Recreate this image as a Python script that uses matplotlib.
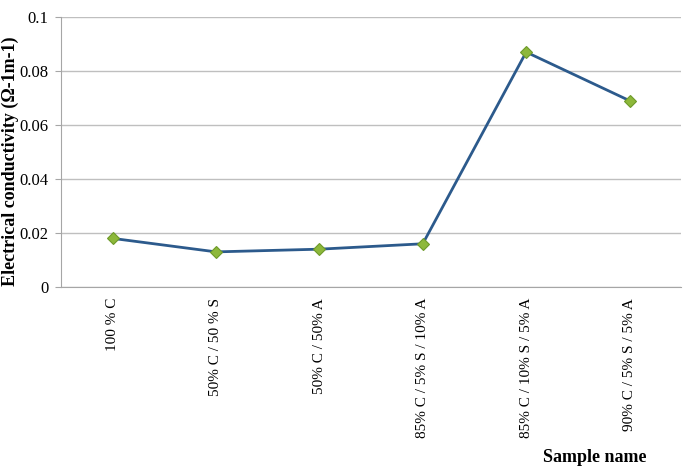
import matplotlib.pyplot as plt

# données
samples = ['100 % C', '50% C / 50 % S', '50% C / 50% A',
           '85% C / 5% S / 10% A', '85% C / 10% S / 5% A', '90% C / 5% S / 5% A']
conductivity = [0.018, 0.013, 0.014, 0.016, 0.087, 0.069]

plt.rcParams['font.family'] = 'Liberation Serif'

fig = plt.figure(figsize=(6.84, 4.68), dpi=100)
ax = fig.add_axes([0.089, 0.3868, 0.907, 0.5769])

x = range(len(samples))
ax.plot(x, conductivity, color='#2C5A8C', linewidth=2, marker='D', markersize=6,
        markerfacecolor='#8DB83A', markeredgecolor='#6E9A2A', markeredgewidth=0.8, zorder=3)

ax.set_xlim(-0.5, len(samples) - 0.5)
ax.set_ylim(0, 0.1)
ax.set_yticks([0, 0.02, 0.04, 0.06, 0.08, 0.1])
ax.set_yticklabels(['0', '0.02', '0.04', '0.06', '0.08', '0.1'], fontsize=12)
ax.set_xticks(list(x))
ax.set_xticklabels(samples, rotation=90, fontsize=11, va='top')

ax.grid(axis='y', color='#BFBFBF', linewidth=1)
ax.set_axisbelow(True)
for s in ['top', 'right']:
    ax.spines[s].set_visible(False)
ax.spines['left'].set_color('#A6A6A6')
ax.spines['bottom'].set_color('#A6A6A6')
ax.tick_params(axis='y', length=4, color='#A6A6A6', pad=5)
ax.tick_params(axis='x', length=0, pad=8)

# titres des axes
fig.text(0.002, 0.655, 'Electrical conductivity (Ω-1m-1)', rotation=90,
         ha='left', va='center', fontsize=13, fontweight='bold')
fig.text(0.87, 0.005, 'Sample name', ha='center', va='bottom', fontsize=13, fontweight='bold')

fig.savefig('out.png', dpi=100)
